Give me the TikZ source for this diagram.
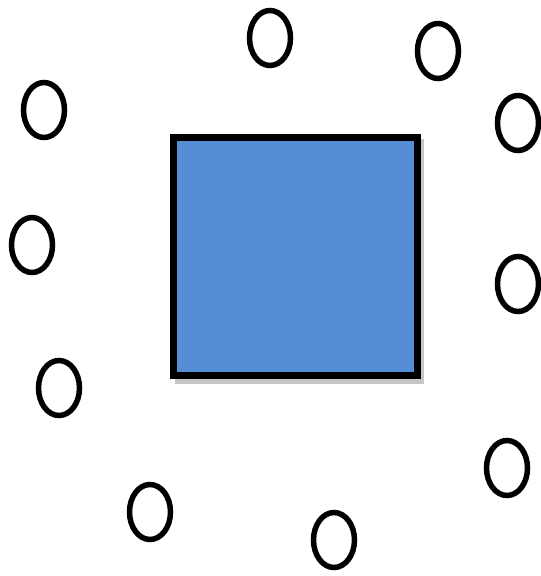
\documentclass[tikz,border=0pt]{standalone}
\begin{document}
\begin{tikzpicture}[x=1pt,y=-1pt,
  ring/.style={draw=black,line width=5.5pt,fill=white},
  sq/.style={draw=black,line width=7pt,fill={rgb,255:red,85;green,142;blue,213},outer sep=0pt,inner sep=0pt}]
\useasboundingbox (0,0) rectangle (541,576);
\fill[gray!45] (175,139) rectangle (424,384);
\node[sq,minimum width=244pt,minimum height=238pt,anchor=center] (box) at (295,256) {};
\foreach \n/\x/\y in {a/270/38,b/438/51,c/518/123,d/44/110,e/32/245,f/518/284,g/59/388,h/507/468,i/150/512,j/334/540}{
  \draw[ring] (\x,\y) ellipse [x radius=20.5, y radius=27.5];
}
\end{tikzpicture}
\end{document}
